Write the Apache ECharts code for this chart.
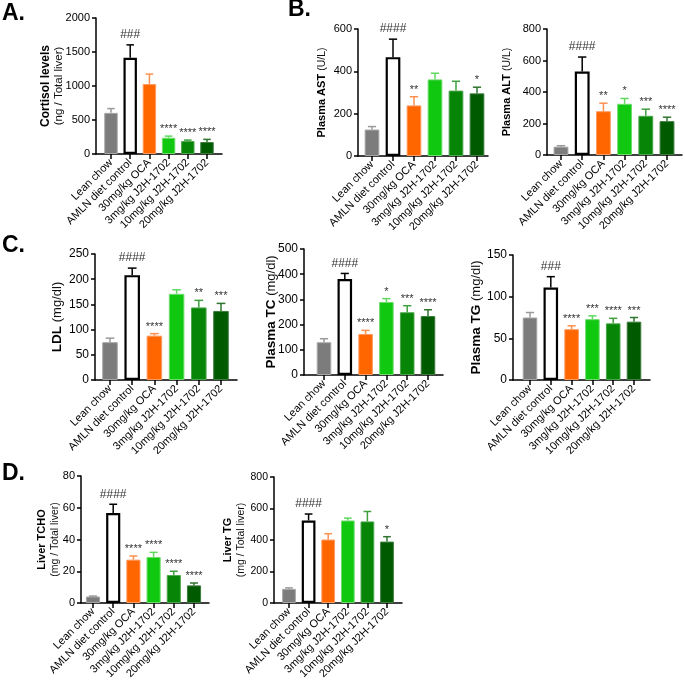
<!DOCTYPE html>
<html>
<head>
<meta charset="utf-8">
<script src="https://cdn.jsdelivr.net/npm/echarts@6/dist/echarts.min.js"></script>
<style>
html,body{margin:0;padding:0;background:#fff;}
#chart{width:685px;height:685px;}
</style>
</head>
<body>
<div id="chart"></div>
<script>
// ---------- data ----------
const categories = ['Lean chow', 'AMLN diet control', '30mg/kg OCA', '3mg/kg J2H-1702', '10mg/kg J2H-1702', '20mg/kg J2H-1702'];

const cortisolMean = [605, 1415, 1029, 239, 190, 176];
const cortisolSem  = [63, 190, 146, 24, 15, 39];
const cortisolSig  = ['', '###', '', '****', '****', '****'];
const cortisolTicks = [0, 500, 1000, 1500, 2000];

const astMean = [125, 467, 239, 362, 309, 296];
const astSem  = [14, 85, 41, 29, 44, 29];
const astSig  = ['', '####', '**', '', '', '*'];
const astTicks = [0, 200, 400, 600];

const altMean = [53, 530, 278, 325, 249, 215];
const altSem  = [6, 92, 51, 34, 42, 25];
const altSig  = ['', '####', '**', '*', '***', '****'];
const altTicks = [0, 200, 400, 600, 800];

const ldlMean = [75, 208, 88, 171, 144, 137];
const ldlSem  = [8, 14, 4, 8, 14, 15];
const ldlSig  = ['', '####', '****', '', '**', '***'];
const ldlTicks = [0, 50, 100, 150, 200, 250];

const tcMean = [130, 381, 163, 290, 249, 234];
const tcSem  = [14, 22, 14, 13, 26, 25];
const tcSig  = ['', '####', '****', '*', '***', '****'];
const tcTicks = [0, 100, 200, 300, 400, 500];

const tgMean = [75, 111, 61, 73, 68, 70];
const tgSem  = [6, 13, 4, 4, 6, 5];
const tgSig  = ['', '###', '****', '***', '****', '***'];
const tgTicks = [0, 50, 100, 150];

const tchoMean = [4.1, 56.7, 27.3, 29, 17.6, 11.1];
const tchoSem  = [0.3, 5.5, 2.3, 2.9, 2.4, 1.5];
const tchoSig  = ['', '####', '****', '****', '****', '****'];
const tchoTicks = [0, 20, 40, 60, 80];

const liverTgMean = [90, 524, 403, 524, 518, 390];
const liverTgSem  = [6, 41, 37, 15, 63, 31];
const liverTgSig  = ['', '####', '', '', '', '*'];
const liverTgTicks = [0, 200, 400, 600, 800];

// ---------- styles ----------
const FONT = "'Liberation Sans', Arial, sans-serif";
const fills   = ['#7c7c7c', '#ffffff', '#ff6600', '#11c811', '#078507', '#005a00'];
const borders = ['#a6a6a6', '#000000', '#ff9a60', '#6ddc6d', '#4aa64a', '#3c7c3c'];
const borderW = [1, 2.2, 1, 1, 1, 1];
const errCols = ['#9a9a9a', '#000000', '#ff9050', '#60d860', '#3f9f3f', '#2f742f'];

const panels = [
  {mean: cortisolMean, sem: cortisolSem, sig: cortisolSig, ticks: cortisolTicks,
   name: '{b|Cortisol levels}\n{n|(ng / Total liver)}',
   g: {ax: 96, top: 18, zero: 154, c1: 111, c6: 207, xEnd: 222, gap: 30, fs: 11, nfs: 11.5, cfs: 11}},
  {mean: astMean, sem: astSem, sig: astSig, ticks: astTicks,
   name: '{b|Plasma AST }{n|(U/L)}',
   g: {ax: 358, top: 29, zero: 156, c1: 372, c6: 477, xEnd: 488, gap: 30, fs: 11, nfs: 10.5, cfs: 11}},
  {mean: altMean, sem: altSem, sig: altSig, ticks: altTicks,
   name: '{b|Plasma ALT }{n|(U/L)}',
   g: {ax: 547, top: 29, zero: 155, c1: 561, c6: 667, xEnd: 682, gap: 34, fs: 11, nfs: 10.5, cfs: 11}},
  {mean: ldlMean, sem: ldlSem, sig: ldlSig, ticks: ldlTicks,
   name: '{b|LDL }{n|(mg/dl)}',
   g: {ax: 95, top: 254, zero: 380, c1: 110, c6: 221, xEnd: 237, gap: 30, fs: 12, nfs: 13, cfs: 11}},
  {mean: tcMean, sem: tcSem, sig: tcSig, ticks: tcTicks,
   name: '{b|Plasma TC }{n|(mg/dl)}',
   g: {ax: 304, top: 249, zero: 375, c1: 324, c6: 428, xEnd: 443, gap: 25, fs: 12, nfs: 13, cfs: 11}},
  {mean: tgMean, sem: tgSem, sig: tgSig, ticks: tgTicks,
   name: '{b|Plasma TG }{n|(mg/dl)}',
   g: {ax: 513, top: 255, zero: 380, c1: 530, c6: 634, xEnd: 650, gap: 29, fs: 12, nfs: 13, cfs: 11}},
  {mean: tchoMean, sem: tchoSem, sig: tchoSig, ticks: tchoTicks,
   name: '{b|Liver TCHO}\n{n|(mg / Total liver)}',
   g: {ax: 81, top: 476, zero: 603, c1: 93, c6: 194, xEnd: 209, gap: 20, fs: 11, nfs: 10.5, cfs: 11}},
  {mean: liverTgMean, sem: liverTgSem, sig: liverTgSig, ticks: liverTgTicks,
   name: '{b|Liver TG}\n{n|(mg / Total liver)}',
   g: {ax: 274, top: 477, zero: 603, c1: 289, c6: 387, xEnd: 402, gap: 27, fs: 10.5, nfs: 10.5, cfs: 11}}
];

const grid = [], xAxis = [], yAxis = [], series = [];

panels.forEach((p, i) => {
  const g = p.g;
  const s = (g.c6 - g.c1) / 5;
  const left = g.c1 - s / 2;
  const h = g.zero - g.top;
  grid.push({left: left, top: g.top, width: 6 * s, height: h});
  grid.push({left: g.ax, top: g.top, width: g.xEnd - g.ax, height: h});
  const gi = 2 * i;
  xAxis.push({
    gridIndex: gi, type: 'category', data: categories,
    axisLine: {show: false},
    axisTick: {show: true, alignWithLabel: true, length: 5, lineStyle: {color: '#000', width: 1.5}},
    axisLabel: {rotate: 45, interval: 0, fontSize: g.cfs, color: '#000', margin: 7, fontFamily: FONT},
    splitLine: {show: false}
  });
  xAxis.push({
    gridIndex: gi + 1, type: 'value', min: 0, max: 1,
    axisLine: {show: true, lineStyle: {color: '#000', width: 1.5}},
    axisTick: {show: false}, axisLabel: {show: false}, splitLine: {show: false}
  });
  const lh = g.nfs + 2;
  yAxis.push({
    gridIndex: gi, type: 'value', min: 0,
    max: p.ticks[p.ticks.length - 1], interval: p.ticks[1] - p.ticks[0],
    offset: left - g.ax,
    axisLine: {show: true, lineStyle: {color: '#000', width: 1.5}},
    axisTick: {show: true, length: 4, lineStyle: {color: '#000', width: 1.5}},
    axisLabel: {fontSize: g.fs, color: '#000', margin: 6, fontFamily: FONT, formatter: v => String(v)},
    splitLine: {show: false},
    name: p.name, nameLocation: 'middle', nameRotate: 90, nameGap: g.gap,
    nameMoveOverlap: false,
    nameTextStyle: {
      rich: {
        b: {fontWeight: 'bold', fontSize: g.nfs + 0.5, fontFamily: FONT, color: '#000', lineHeight: lh},
        n: {fontSize: g.nfs, fontFamily: FONT, color: '#111', lineHeight: lh}
      }
    }
  });
  yAxis.push({gridIndex: gi + 1, type: 'value', min: 0, max: 1, show: false});

  series.push({
    type: 'bar', xAxisIndex: gi, yAxisIndex: gi, barWidth: '70%', animation: false,
    data: p.mean.map((v, k) => ({value: v, itemStyle: {color: fills[k], borderColor: borders[k], borderWidth: borderW[k]}}))
  });
  series.push({
    type: 'custom', xAxisIndex: gi, yAxisIndex: gi, animation: false, z: 5,
    data: p.mean.map((v, k) => [k, v, v + p.sem[k]]),
    renderItem: (params, api) => {
      const k = api.value(0);
      const base = api.coord([k, api.value(1)]);
      const top = api.coord([k, api.value(2)]);
      const band = api.size([1, 0])[0];
      const half = band * 0.7 * 0.28;
      const col = errCols[k];
      const children = [
        {type: 'line', shape: {x1: base[0], y1: base[1], x2: top[0], y2: top[1]}, style: {stroke: col, lineWidth: 1.5}},
        {type: 'line', shape: {x1: top[0] - half, y1: top[1], x2: top[0] + half, y2: top[1]}, style: {stroke: col, lineWidth: 1.5}}
      ];
      const t = p.sig[params.dataIndex];
      if (t) {
        const isHash = t[0] === '#';
        children.push({
          type: 'text',
          style: {text: t, x: top[0], y: top[1] - (isHash ? 10 : 7), align: 'center', verticalAlign: 'middle',
                  fontSize: isHash ? 12 : 11, fontFamily: FONT, fill: '#333'}
        });
      }
      return {type: 'group', children: children};
    }
  });
});

const letterStyle = {fontSize: 23, fontWeight: 'bold', fontFamily: FONT, color: '#000'};
const option = {
  backgroundColor: '#fff',
  animation: false,
  title: [
    {text: 'A.', left: 2, top: 2, padding: 0, textStyle: letterStyle},
    {text: 'B.', left: 288, top: -2, padding: 0, textStyle: letterStyle},
    {text: 'C.', left: 2, top: 234, padding: 0, textStyle: letterStyle},
    {text: 'D.', left: 2, top: 462, padding: 0, textStyle: letterStyle}
  ],
  grid: grid, xAxis: xAxis, yAxis: yAxis, series: series
};

const chart = echarts.init(document.getElementById('chart'), null, {renderer: 'canvas'});
chart.setOption(option);
</script>
</body>
</html>
